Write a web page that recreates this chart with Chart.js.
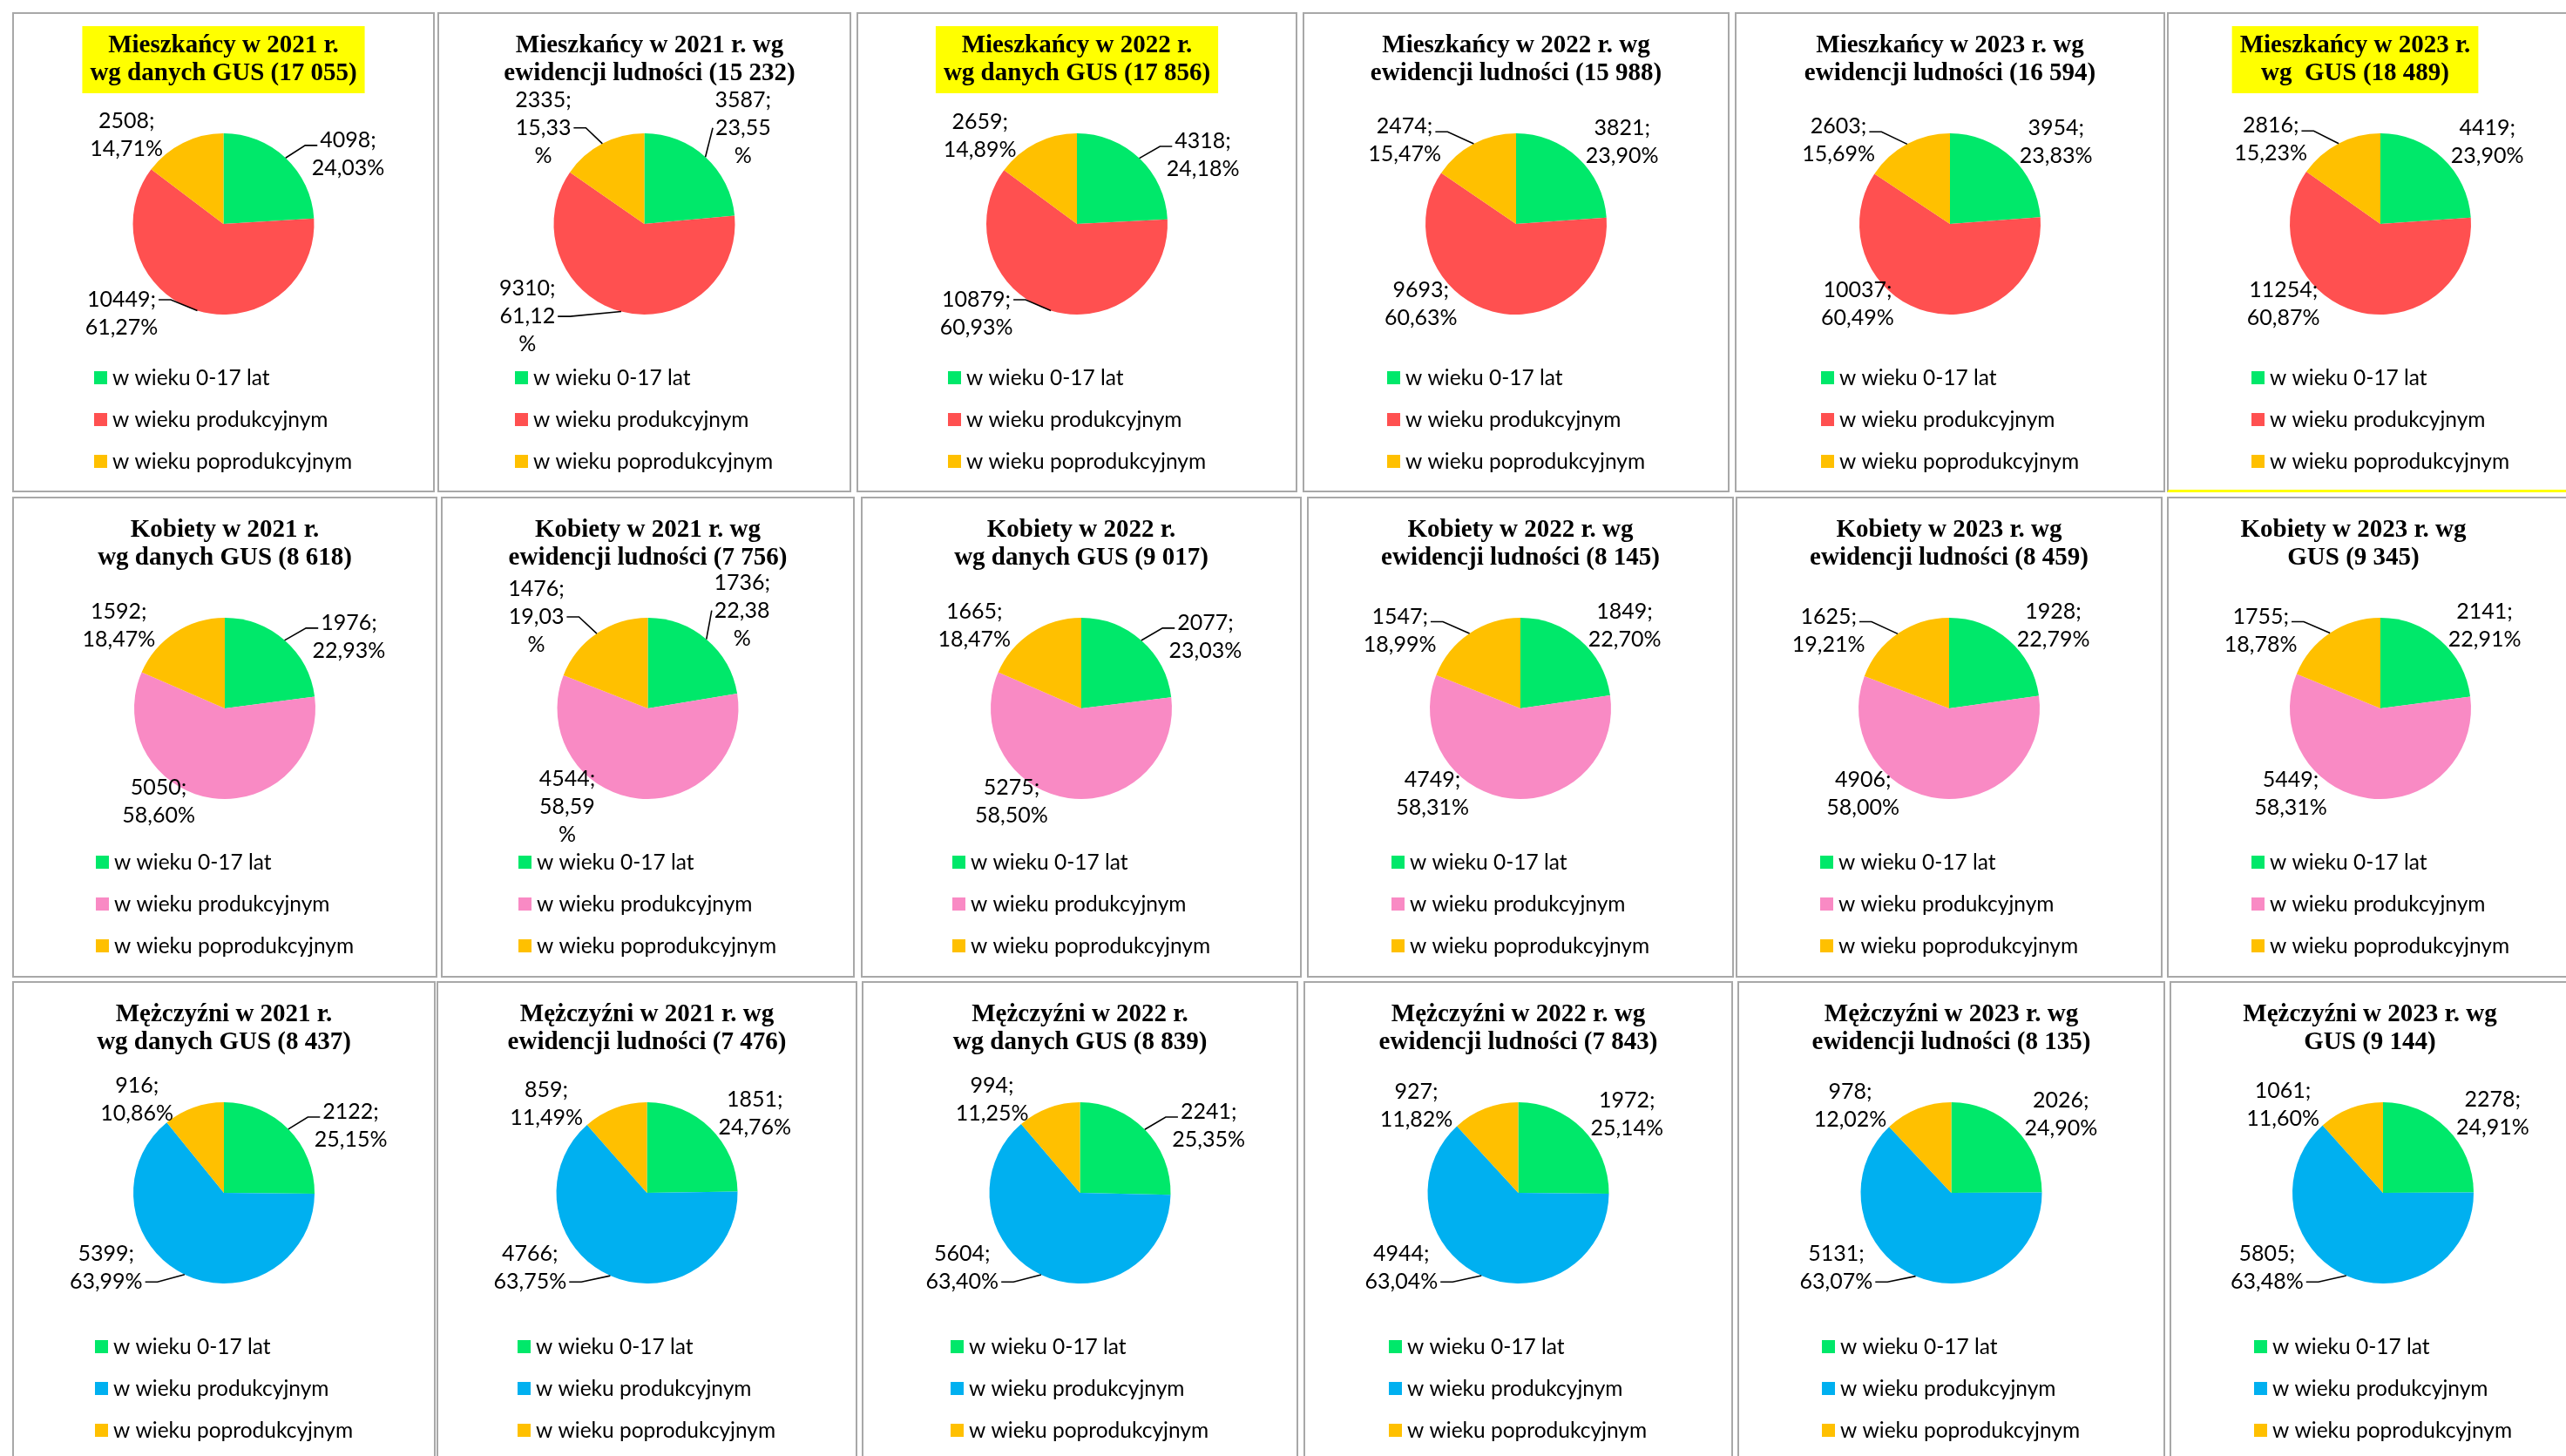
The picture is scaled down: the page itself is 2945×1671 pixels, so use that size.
<!DOCTYPE html>
<html>
<head>
<meta charset="utf-8">
<script src="https://cdn.jsdelivr.net/npm/chart.js@4.4.1/dist/chart.umd.min.js"></script>
<style>
html, body { margin: 0; padding: 0; background: #fff; overflow: hidden; }
body { width: 2945px; height: 1671px; position: relative; }
.cell { position: absolute; box-sizing: border-box; border: 2px solid #a8a8a8; pointer-events: none; }
canvas { position: absolute; }
</style>
</head>
<body>
<script>
// categories (legend)
const categories = ['w wieku 0-17 lat', 'w wieku produkcyjnym', 'w wieku poprodukcyjnym'];

// Mieszkańcy
const mieszkancy2021Gus  = [4098, 10449, 2508];
const mieszkancy2021Ewid = [3587, 9310, 2335];
const mieszkancy2022Gus  = [4318, 10879, 2659];
const mieszkancy2022Ewid = [3821, 9693, 2474];
const mieszkancy2023Ewid = [3954, 10037, 2603];
const mieszkancy2023Gus  = [4419, 11254, 2816];

// Kobiety
const kobiety2021Gus  = [1976, 5050, 1592];
const kobiety2021Ewid = [1736, 4544, 1476];
const kobiety2022Gus  = [2077, 5275, 1665];
const kobiety2022Ewid = [1849, 4749, 1547];
const kobiety2023Ewid = [1928, 4906, 1625];
const kobiety2023Gus  = [2141, 5449, 1755];

// Mężczyźni
const mezczyzni2021Gus  = [2122, 5399, 916];
const mezczyzni2021Ewid = [1851, 4766, 859];
const mezczyzni2022Gus  = [2241, 5604, 994];
const mezczyzni2022Ewid = [1972, 4944, 927];
const mezczyzni2023Ewid = [2026, 5131, 978];
const mezczyzni2023Gus  = [2278, 5805, 1061];

const titlesRow1 = [
  ['Mieszkańcy w 2021 r.', 'wg danych GUS (17 055)'],
  ['Mieszkańcy w 2021 r. wg', 'ewidencji ludności (15 232)'],
  ['Mieszkańcy w 2022 r.', 'wg danych GUS (17 856)'],
  ['Mieszkańcy w 2022 r. wg', 'ewidencji ludności (15 988)'],
  ['Mieszkańcy w 2023 r. wg', 'ewidencji ludności (16 594)'],
  ['Mieszkańcy w 2023 r.', 'wg  GUS (18 489)']
];
const titlesRow2 = [
  ['Kobiety w 2021 r.', 'wg danych GUS (8 618)'],
  ['Kobiety w 2021 r. wg', 'ewidencji ludności (7 756)'],
  ['Kobiety w 2022 r.', 'wg danych GUS (9 017)'],
  ['Kobiety w 2022 r. wg', 'ewidencji ludności (8 145)'],
  ['Kobiety w 2023 r. wg', 'ewidencji ludności (8 459)'],
  ['Kobiety w 2023 r. wg', 'GUS (9 345)']
];
const titlesRow3 = [
  ['Mężczyźni w 2021 r.', 'wg danych GUS (8 437)'],
  ['Mężczyźni w 2021 r. wg', 'ewidencji ludności (7 476)'],
  ['Mężczyźni w 2022 r.', 'wg danych GUS (8 839)'],
  ['Mężczyźni w 2022 r. wg', 'ewidencji ludności (7 843)'],
  ['Mężczyźni w 2023 r. wg', 'ewidencji ludności (8 135)'],
  ['Mężczyźni w 2023 r. wg', 'GUS (9 144)']
];

const rowsData = [
  [mieszkancy2021Gus, mieszkancy2021Ewid, mieszkancy2022Gus, mieszkancy2022Ewid, mieszkancy2023Ewid, mieszkancy2023Gus],
  [kobiety2021Gus, kobiety2021Ewid, kobiety2022Gus, kobiety2022Ewid, kobiety2023Ewid, kobiety2023Gus],
  [mezczyzni2021Gus, mezczyzni2021Ewid, mezczyzni2022Gus, mezczyzni2022Ewid, mezczyzni2023Ewid, mezczyzni2023Gus]
];
const rowsTitles = [titlesRow1, titlesRow2, titlesRow3];

// ---- layout / style (not data) ----
const rowColors = [
  ['#00e86a', '#ff5050', '#ffc000'],
  ['#00e86a', '#f98ac4', '#ffc000'],
  ['#00e86a', '#00b0f0', '#ffc000']
];
const rowTops = [14, 570, 1126];
const rowHeights = [551, 552, 560];
const colLefts = [
  [14, 502, 983, 1495, 1991, 2487],
  [14, 506, 988, 1500, 1992, 2487],
  [14, 501, 989, 1496, 1994, 2490]
];
const colWidths = [
  [485, 475, 506, 490, 494, 490],
  [488, 475, 506, 490, 490, 490],
  [486, 483, 501, 493, 491, 490]
];
const titleShift = [[0, 6, 0, 0, 0, -29], [0, 0, 0, 0, 0, -31], [0, 0, 0, 0, 0, -15]];
const highlighted = [[true, false, true, false, false, true], [], []];
const narrowLabels = [[false, true, false, false, false, false], [false, true, false, false, false, false], []];

// label block centres, relative to pie centre, in pie radii
const labelSpots = [
  [
    [[1.375, -0.77], [-1.125, 0.99], [-1.07, -0.98]],
    [[1.09, -1.06], [-1.29, 1.02], [-1.115, -1.06]],
    [[1.39, -0.76], [-1.11, 0.99], [-1.07, -0.97]],
    [[1.17, -0.90], [-1.05, 0.88], [-1.23, -0.92]],
    [[1.17, -0.90], [-1.02, 0.88], [-1.23, -0.92]],
    [[1.18, -0.90], [-1.07, 0.88], [-1.21, -0.93]]
  ],
  [
    [[1.37, -0.79], [-0.73, 1.03], [-1.17, -0.91]],
    [[1.04, -1.08], [-0.89, 1.09], [-1.23, -1.01]],
    [[1.37, -0.79], [-0.77, 1.03], [-1.18, -0.91]],
    [[1.15, -0.91], [-0.97, 0.94], [-1.33, -0.86]],
    [[1.15, -0.91], [-0.95, 0.94], [-1.33, -0.86]],
    [[1.15, -0.91], [-0.99, 0.94], [-1.32, -0.86]]
  ],
  [
    [[1.40, -0.74], [-1.30, 0.83], [-0.96, -1.03]],
    [[1.19, -0.88], [-1.29, 0.83], [-1.11, -0.98]],
    [[1.42, -0.74], [-1.30, 0.83], [-0.97, -1.03]],
    [[1.20, -0.87], [-1.29, 0.83], [-1.125, -0.96]],
    [[1.21, -0.87], [-1.27, 0.83], [-1.115, -0.96]],
    [[1.21, -0.875], [-1.28, 0.83], [-1.105, -0.97]]
  ]
];
const leaderLines = [
  [[1,1,0],[1,1,1],[1,1,0],[0,0,1],[0,0,1],[0,0,1]],
  [[1,0,0],[1,0,1],[1,0,0],[0,0,1],[0,0,1],[0,0,1]],
  [[1,1,0],[0,1,0],[1,1,0],[0,1,0],[0,1,0],[0,1,0]]
];

const PIE_CY = 243, PIE_R = 104;
const TITLE_FONT = {family: '"Liberation Serif", "Times New Roman", serif', size: 29, weight: 'bold', lineHeight: 32 / 29};
const LABEL_FONT = '25px Lato, "Open Sans", sans-serif';
const LABEL_LINE = 32;
const LEGEND_FONT = '24.5px Lato, "Open Sans", sans-serif';
const LEGEND_Y = [419, 467, 515];

const pieExtras = {
  id: 'pieExtras',
  afterLayout(chart, args, opts) {
    const tb = chart.titleBlock;
    if (tb && opts.shift) { tb.left += opts.shift; tb.right += opts.shift; }
  },
  beforeDraw(chart, args, opts) {
    if (!opts.highlight) return;
    const ctx = chart.ctx;
    const tb = chart.titleBlock;
    const lines = chart.options.plugins.title.text;
    ctx.save();
    ctx.font = 'bold ' + TITLE_FONT.size + 'px ' + TITLE_FONT.family;
    const w = Math.max(...lines.map(l => ctx.measureText(l).width));
    const cx = (tb.left + tb.right) / 2;
    const y1 = tb.top + 23 + 16;
    const y2 = y1 + 32 * (lines.length - 1);
    ctx.fillStyle = '#ffff00';
    ctx.fillRect(cx - w / 2 - 9, y1 - 23, w + 18, y2 - y1 + 45);
    ctx.restore();
  },
  afterDatasetsDraw(chart, args, opts) {
    const ctx = chart.ctx;
    const meta = chart.getDatasetMeta(0);
    const data = chart.data.datasets[0].data;
    const total = data.reduce((a, b) => a + b, 0);
    ctx.save();
    ctx.font = LABEL_FONT;
    ctx.fillStyle = '#000';
    ctx.strokeStyle = '#000';
    ctx.lineWidth = 1.6;
    ctx.textAlign = 'center';
    ctx.textBaseline = 'middle';
    meta.data.forEach((arc, i) => {
      const p = arc.getProps(['x', 'y', 'outerRadius', 'startAngle', 'endAngle'], true);
      const pct = (data[i] / total * 100).toFixed(2).replace('.', ',');
      const lines = opts.narrow ? [data[i] + ';', pct, '%'] : [data[i] + ';', pct + '%'];
      const lx = p.x + opts.spots[i][0] * p.outerRadius;
      const ly = p.y + opts.spots[i][1] * p.outerRadius;
      const n = lines.length;
      const lineY = k => ly + (k - (n - 1) / 2) * LABEL_LINE;
      lines.forEach((t, k) => ctx.fillText(t, lx, lineY(k)));
      if (opts.leaders[i]) {
        const mid = (p.startAngle + p.endAngle) / 2;
        const ex = p.x + Math.cos(mid) * p.outerRadius;
        const ey = p.y + Math.sin(mid) * p.outerRadius;
        // which text line the leader starts from
        let k;
        if (n === 3) k = 1;
        else if (ly < p.y) k = 0;
        else k = Math.abs(lineY(0) - ey) <= Math.abs(lineY(1) - ey) ? 0 : 1;
        const side = ex < lx ? -1 : 1;
        const w = ctx.measureText(lines[k]).width;
        const ax = lx + side * (w / 2 + 3);
        const ay = lineY(k) + (k === 0 && ly < p.y ? 6 : 0);
        ctx.beginPath();
        ctx.moveTo(ax, ay);
        if (Math.abs(ex - ax) > 24) ctx.lineTo(ax + side * 14, ay);
        ctx.lineTo(ex, ey);
        ctx.stroke();
      }
    });
    ctx.restore();
  },
  afterDraw(chart) {
    const ctx = chart.ctx;
    const labels = chart.data.labels;
    const colors = chart.data.datasets[0].backgroundColor;
    ctx.save();
    ctx.font = LEGEND_FONT;
    const tw = Math.max(...labels.map(l => ctx.measureText(l).width));
    const x0 = Math.round((chart.width - (15 + 6 + tw)) / 2);
    ctx.textAlign = 'left';
    ctx.textBaseline = 'middle';
    labels.forEach((l, i) => {
      ctx.fillStyle = colors[i];
      ctx.fillRect(x0, LEGEND_Y[i] - 7, 15, 15);
      ctx.fillStyle = '#000';
      ctx.fillText(l, x0 + 21, LEGEND_Y[i] + 1);
    });
    ctx.restore();
  }
};

for (let r = 0; r < 3; r++) {
  for (let c = 0; c < 6; c++) {
    const left = colLefts[r][c], top = rowTops[r];
    const W = colWidths[r][c], H = rowHeights[r];

    const canvas = document.createElement('canvas');
    canvas.width = W; canvas.height = H;
    canvas.style.left = left + 'px'; canvas.style.top = top + 'px';
    canvas.style.width = W + 'px'; canvas.style.height = H + 'px';
    document.body.appendChild(canvas);

    const frame = document.createElement('div');
    frame.className = 'cell';
    frame.style.left = left + 'px'; frame.style.top = top + 'px';
    frame.style.width = W + 'px'; frame.style.height = H + 'px';
    if (r === 0 && c === 5) frame.style.borderBottom = '3px solid #ffff00';
    document.body.appendChild(frame);

    new Chart(canvas, {
      type: 'pie',
      data: {
        labels: categories,
        datasets: [{
          data: rowsData[r][c],
          backgroundColor: rowColors[r],
          borderWidth: 0,
          hoverOffset: 0
        }]
      },
      options: {
        responsive: false,
        devicePixelRatio: 1,
        animation: false,
        events: [],
        layout: { padding: { top: 0, left: 0, right: 0, bottom: H - (PIE_CY + PIE_R) } },
        plugins: {
          legend: { display: false },
          tooltip: { enabled: false },
          title: {
            display: true,
            text: rowsTitles[r][c],
            color: '#000',
            font: TITLE_FONT,
            padding: { top: 23, bottom: PIE_CY - PIE_R - 23 - 64 }
          },
          pieExtras: {
            highlight: !!highlighted[r][c],
            narrow: !!narrowLabels[r][c],
            shift: titleShift[r][c],
            spots: labelSpots[r][c],
            leaders: leaderLines[r][c]
          }
        }
      },
      plugins: [pieExtras]
    });
  }
}
</script>
</body>
</html>
